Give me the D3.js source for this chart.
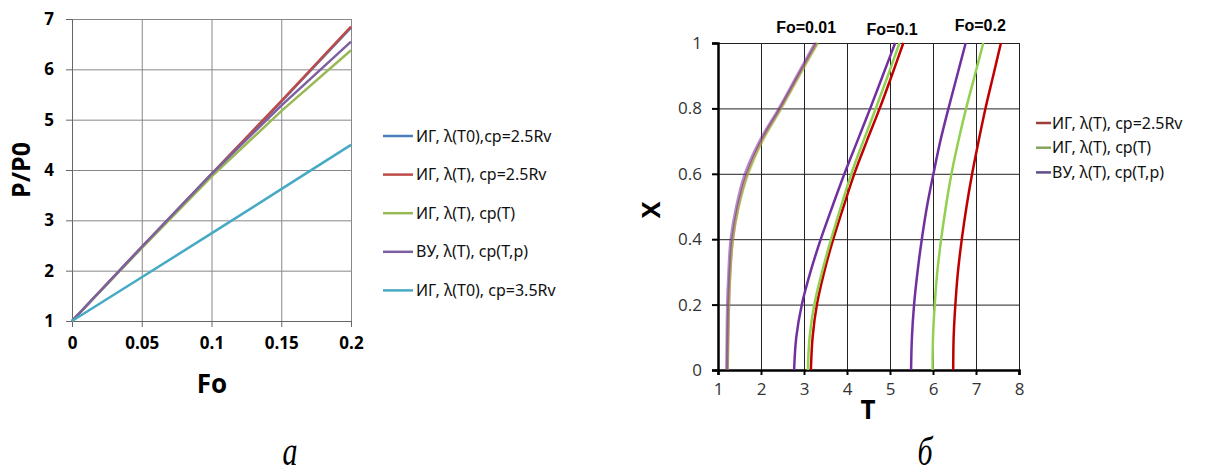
<!DOCTYPE html>
<html>
<head>
<meta charset="utf-8">
<script src="https://cdn.jsdelivr.net/npm/d3@7"></script>
<style>
  body { margin: 0; background: #fff; }
  svg { display: block; }
  .axA text { font-family: "Open Sans", sans-serif; font-weight: bold; font-size: 17px; fill: #000; }
  .axB text { font-family: "Open Sans", sans-serif; font-size: 17px; fill: #333; }
  .leg text { font-family: "Noto Sans", sans-serif; font-size: 16px; fill: #111; }
</style>
</head>
<body>
<script>
// ---- chart a: P/P0 vs Fo
var foValues = [0, 0.05, 0.1, 0.15, 0.2];
var seriesA = [
  { name: "ИГ, λ(T0),cp=2.5Rv",   color: "#4a7ebb", values: [1, 2.47, 3.92, 5.36, 6.83] },
  { name: "ИГ, λ(T), cp=2.5Rv",   color: "#be4b48", values: [1, 2.47, 3.92, 5.37, 6.85] },
  { name: "ИГ, λ(T), cp(T)",      color: "#98b954", values: [1, 2.45, 3.87, 5.17, 6.38] },
  { name: "ВУ, λ(T), cp(T,p)",    color: "#7d60a0", values: [1, 2.47, 3.92, 5.28, 6.55] },
  { name: "ИГ, λ(T0), cp=3.5Rv",  color: "#46aac5", values: [1, 1.87, 2.74, 3.62, 4.5] }
];
var ticksFo = [0, 0.05, 0.1, 0.15, 0.2];
var ticksP = [1, 2, 3, 4, 5, 6, 7];

// ---- chart б: X vs T
var xLevels = [0, 0.1, 0.2, 0.3, 0.4, 0.5, 0.6, 0.7, 0.8, 0.9, 1];
var redFo001 = [1.22, 1.23, 1.25, 1.28, 1.34, 1.47, 1.68, 2.01, 2.45, 2.87, 3.30];
var greenFo001 = [1.22, 1.23, 1.25, 1.28, 1.34, 1.48, 1.70, 2.03, 2.47, 2.89, 3.32];
var purpleFo001 = [1.20, 1.21, 1.22, 1.25, 1.30, 1.43, 1.63, 1.97, 2.42, 2.84, 3.26];
var redFo01 = [3.16, 3.20, 3.30, 3.47, 3.68, 3.92, 4.17, 4.46, 4.76, 5.04, 5.31];
var greenFo01 = [3.09, 3.13, 3.24, 3.42, 3.63, 3.86, 4.10, 4.38, 4.67, 4.95, 5.22];
var purpleFo01 = [2.77, 2.82, 2.95, 3.15, 3.39, 3.66, 3.94, 4.24, 4.54, 4.83, 5.12];
var redFo02 = [6.47, 6.48, 6.52, 6.58, 6.67, 6.78, 6.91, 7.06, 7.22, 7.40, 7.58];
var greenFo02 = [5.99, 6.00, 6.04, 6.10, 6.19, 6.30, 6.43, 6.59, 6.77, 6.97, 7.17];
var purpleFo02 = [5.49, 5.51, 5.56, 5.64, 5.74, 5.86, 6.01, 6.17, 6.36, 6.56, 6.76];
var seriesB = [
  { name: "ИГ, λ(T), cp=2.5Rv", color: "#c00000", legend: "#9e3b3b", curves: [redFo001, redFo01, redFo02] },
  { name: "ИГ, λ(T), cp(T)",    color: "#92d050", legend: "#86a35c", curves: [greenFo001, greenFo01, greenFo02] },
  { name: "ВУ, λ(T), cp(T,p)",  color: "#7030a0", legend: "#5f4d8a", curves: [purpleFo001, purpleFo01, purpleFo02] }
];
var foLabels = ["Fo=0.01", "Fo=0.1", "Fo=0.2"];
var foLabelT = [3.05, 5.05, 7.1];
var ticksT = [1, 2, 3, 4, 5, 6, 7, 8];
var ticksX = [0, 0.2, 0.4, 0.6, 0.8, 1];

var svg = d3.select("body").append("svg")
    .attr("width", 1210)
    .attr("height", 475);

// ================= chart a =================
var xa = d3.scaleLinear().domain([0, 0.2]).range([72, 351]);
var ya = d3.scaleLinear().domain([1, 7]).range([321, 19]);
var ga = svg.append("g");

ga.append("g")
    .attr("transform", "translate(0,321)")
    .call(d3.axisBottom(xa).tickValues(ticksFo).tickSize(-302).tickFormat(""))
    .call(function(g) { g.select(".domain").remove(); })
    .selectAll("line").attr("stroke", "#888");
ga.append("g")
    .attr("transform", "translate(72,0)")
    .call(d3.axisLeft(ya).tickValues(ticksP).tickSize(-279).tickFormat(""))
    .call(function(g) { g.select(".domain").remove(); })
    .selectAll("line").attr("stroke", "#888");

ga.append("g").attr("class", "axA")
    .attr("transform", "translate(0,321)")
    .call(d3.axisBottom(xa).tickValues(ticksFo).tickSize(6).tickPadding(10).tickFormat(String))
    .call(function(g) {
      g.select(".domain").attr("stroke", "#666");
      g.selectAll("line").attr("stroke", "#666");
    });
ga.append("g").attr("class", "axA")
    .attr("transform", "translate(72,0)")
    .call(d3.axisLeft(ya).tickValues(ticksP).tickSize(6).tickPadding(12).tickFormat(String))
    .call(function(g) {
      g.select(".domain").attr("stroke", "#666");
      g.selectAll("line").attr("stroke", "#666");
    });

var lineA = d3.line()
    .x(function(d, i) { return xa(foValues[i]); })
    .y(function(d) { return ya(d); });

ga.selectAll(".ser").data(seriesA).enter().append("path")
    .attr("d", function(s) { return lineA(s.values); })
    .attr("fill", "none")
    .attr("stroke", function(s) { return s.color; })
    .attr("stroke-width", 2.5);

ga.append("text")
    .attr("x", 212).attr("y", 393)
    .attr("text-anchor", "middle")
    .style("font-family", "'Open Sans', sans-serif")
    .style("font-weight", "bold").style("font-size", "26px")
    .text("Fo");
ga.append("text")
    .attr("transform", "translate(30,170) rotate(-90)")
    .attr("text-anchor", "middle")
    .style("font-family", "'Open Sans', sans-serif")
    .style("font-weight", "bold").style("font-size", "25px")
    .text("P/P0");

var legA = ga.append("g").attr("class", "leg");
var legARows = legA.selectAll("g").data(seriesA).enter().append("g")
    .attr("transform", function(d, i) { return "translate(383," + (136 + i * 38.6) + ")"; });
legARows.append("line")
    .attr("x1", 0).attr("x2", 30)
    .attr("stroke", function(d) { return d.color; })
    .attr("stroke-width", 2.5);
legARows.append("text")
    .attr("x", 33).attr("dy", "0.35em")
    .text(function(d) { return d.name; });

// ================= chart б =================
var xb = d3.scaleLinear().domain([1, 8]).range([718, 1019]);
var yb = d3.scaleLinear().domain([0, 1]).range([370, 43]);
var gb = svg.append("g");

gb.append("g")
    .attr("transform", "translate(0,370)")
    .call(d3.axisBottom(xb).tickValues(ticksT).tickSize(-327).tickFormat(""))
    .call(function(g) { g.select(".domain").remove(); })
    .selectAll("line").attr("stroke", "#222");
gb.append("g")
    .attr("transform", "translate(718,0)")
    .call(d3.axisLeft(yb).tickValues(ticksX).tickSize(-301).tickFormat(""))
    .call(function(g) { g.select(".domain").remove(); })
    .selectAll("line").attr("stroke", "#222");

gb.append("g").attr("class", "axB")
    .attr("transform", "translate(0,370)")
    .call(d3.axisBottom(xb).tickValues(ticksT).tickSize(5).tickPadding(8).tickFormat(String))
    .call(function(g) {
      g.select(".domain").attr("stroke", "#000").attr("stroke-width", 2.5);
      g.selectAll("line").attr("stroke", "#000").attr("stroke-width", 2);
    });
gb.append("g").attr("class", "axB")
    .attr("transform", "translate(718,0)")
    .call(d3.axisLeft(yb).tickValues(ticksX).tickSize(6).tickPadding(10).tickFormat(String))
    .call(function(g) {
      g.select(".domain").attr("stroke", "#000").attr("stroke-width", 2.5);
      g.selectAll("line").attr("stroke", "#000").attr("stroke-width", 2);
    });

var lineB = d3.line()
    .x(function(d) { return xb(d); })
    .y(function(d, i) { return yb(xLevels[i]); })
    .curve(d3.curveCatmullRom);

seriesB.forEach(function(s) {
  gb.selectAll(null).data(s.curves).enter().append("path")
      .attr("d", function(c) { return lineB(c); })
      .attr("fill", "none")
      .attr("stroke", s.color)
      .attr("stroke-width", function(c, i) { return i === 0 ? 3 : 2.5; })
      .attr("stroke-opacity", function(c, i) { return i === 0 ? 0.55 : 1; });
});

gb.selectAll(".fo").data(foLabels).enter().append("text")
    .attr("x", function(d, i) { return xb(foLabelT[i]); })
    .attr("y", function(d, i) { return [33, 35, 31][i]; })
    .attr("text-anchor", "middle")
    .style("font-family", "'Liberation Sans', Arial, sans-serif")
    .style("font-weight", "bold").style("font-size", "16px")
    .text(function(d) { return d; });

gb.append("text")
    .attr("x", 868).attr("y", 419)
    .attr("text-anchor", "middle")
    .style("font-family", "'Open Sans', sans-serif")
    .style("font-weight", "bold").style("font-size", "26px")
    .text("T");
gb.append("text")
    .attr("transform", "translate(660,210) rotate(-90)")
    .attr("text-anchor", "middle")
    .style("font-family", "'Open Sans', sans-serif")
    .style("font-weight", "bold").style("font-size", "25px")
    .text("X");

var legB = gb.append("g").attr("class", "leg");
var legBRows = legB.selectAll("g").data(seriesB).enter().append("g")
    .attr("transform", function(d, i) { return "translate(1036," + (123 + i * 24.7) + ")"; });
legBRows.append("line")
    .attr("x1", 0).attr("x2", 15)
    .attr("stroke", function(d) { return d.legend; })
    .attr("stroke-width", 2.5);
legBRows.append("text")
    .attr("x", 16).attr("dy", "0.35em")
    .text(function(d) { return d.name; });

// ---- panel captions
svg.selectAll(".cap").data([["а", 290, 465], ["б", 925, 465]]).enter().append("text")
    .attr("transform", function(d) { return "translate(" + d[1] + "," + d[2] + ") scale(0.75,1)"; })
    .attr("text-anchor", "middle")
    .style("font-family", "'Liberation Serif', serif")
    .style("font-style", "italic").style("font-size", "40px")
    .text(function(d) { return d[0]; });
</script>
</body>
</html>
